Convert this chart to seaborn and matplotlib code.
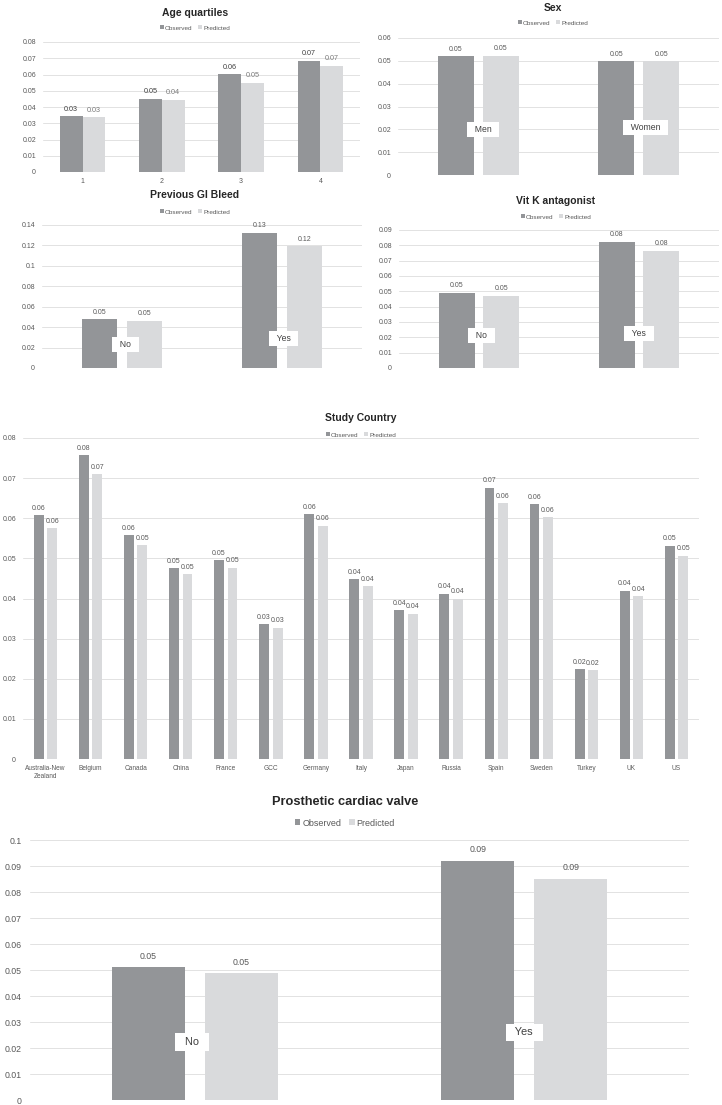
import matplotlib
matplotlib.use("Agg")
import matplotlib.pyplot as plt
from matplotlib.patches import Patch
import seaborn as sns
import pandas as pd

# ---------------- data ----------------
series = ["Observed", "Predicted"]

age_cats = ["1", "2", "3", "4"]
age_obs = [0.0342, 0.0452, 0.0602, 0.0684]
age_pred = [0.0336, 0.0446, 0.0548, 0.0654]

sex_cats = ["Men", "Women"]
sex_obs = [0.0520, 0.0498]
sex_pred = [0.0522, 0.0499]

gib_cats = ["No", "Yes"]
gib_obs = [0.0478, 0.1322]
gib_pred = [0.0461, 0.1190]

vka_cats = ["No", "Yes"]
vka_obs = [0.0490, 0.0822]
vka_pred = [0.0472, 0.0766]

country_cats = ["Australia-New\nZealand", "Belgium", "Canada", "China", "France", "GCC",
                "Germany", "Italy", "Japan", "Russia", "Spain", "Sweden", "Turkey", "UK", "US"]
country_obs = [0.0607, 0.0757, 0.0558, 0.0476, 0.0496, 0.0336, 0.0610, 0.0448,
               0.0371, 0.0412, 0.0676, 0.0635, 0.0224, 0.0419, 0.0532]
country_pred = [0.0575, 0.0710, 0.0533, 0.0461, 0.0477, 0.0327, 0.0581, 0.0431,
                0.0362, 0.0400, 0.0638, 0.0602, 0.0221, 0.0405, 0.0507]

pcv_cats = ["No", "Yes"]
pcv_obs = [0.0510, 0.0921]
pcv_pred = [0.0488, 0.0851]

# ---------------- style ----------------
sns.set_style("white")
plt.rcParams["font.family"] = ["Liberation Sans", "DejaVu Sans"]

OBS = "#939598"
PRED = "#d9dadc"
GRID = "#e2e2e2"
TXT = "#595959"
TITLE = "#262626"

W, H = 722, 1105
fig = plt.figure(figsize=(W / 100, H / 100), dpi=100)


def frame(cats, obs, pred):
    return pd.DataFrame({
        "cat": list(cats) * 2,
        "val": list(obs) + list(pred),
        "series": [series[0]] * len(cats) + [series[1]] * len(cats),
    })


def fmt_tick(v):
    s = f"{v:.2f}".rstrip("0").rstrip(".")
    return s


def panel(l, r, t, b, cats, obs, pred, ymax, ystep, width, gap,
          title, tx, ty, ly, tsize, fsize, lsize, dsize, dpad,
          show_x=False, xsize=5, ypad=5, cat_boxes=None, box_size=6.2,
          pred_lab_col=TXT, obs_lab_col=TXT):
    ax = fig.add_axes([l / W, 1 - b / H, (r - l) / W, (b - t) / H])
    df = frame(cats, obs, pred)
    sns.barplot(data=df, x="cat", y="val", hue="series", palette=[OBS, PRED],
                width=width, gap=gap, errorbar=None, legend=False, ax=ax,
                saturation=1, edgecolor="none", linewidth=0)
    ax.set_xlim(-0.5, len(cats) - 0.5)
    ax.set_ylim(0, ymax)
    n = int(round(ymax / ystep))
    ticks = [i * ystep for i in range(n + 1)]
    ax.set_yticks(ticks)
    ax.set_yticklabels([fmt_tick(v) for v in ticks])
    ax.yaxis.grid(True, color=GRID, linewidth=0.7)
    ax.set_axisbelow(True)
    for s in ax.spines.values():
        s.set_visible(False)
    ax.tick_params(axis="y", length=0, labelsize=fsize, colors=TXT, pad=ypad)
    if show_x:
        ax.tick_params(axis="x", length=0, labelsize=xsize, colors=TXT, pad=4)
    else:
        ax.set_xticklabels([])
        ax.tick_params(axis="x", length=0)
    ax.set_xlabel("")
    ax.set_ylabel("")
    cols = [obs_lab_col, pred_lab_col]
    for cont, c in zip(ax.containers, cols):
        ax.bar_label(cont, labels=[f"{v:.2f}" for v in cont.datavalues],
                     fontsize=dsize, color=c, padding=dpad)
    if cat_boxes:
        for i, (dx, yv) in enumerate(cat_boxes):
            ax.text(i + dx, yv, "  " + cats[i] + "  ", ha="center", va="center",
                    fontsize=box_size, color="#404040",
                    bbox=dict(boxstyle="square,pad=0.35", fc="white", ec="none"))
    fig.text(tx / W, 1 - ty / H, title, ha="center", va="center",
             fontsize=tsize, fontweight="bold", color=TITLE)
    handles = [Patch(facecolor=OBS, edgecolor="none"), Patch(facecolor=PRED, edgecolor="none")]
    fig.legend(handles, series, loc="center", bbox_to_anchor=(tx / W, 1 - ly / H),
               ncol=2, frameon=False, fontsize=lsize, handlelength=0.6,
               handleheight=0.6, handletextpad=0.2, columnspacing=0.9,
               labelcolor=TXT, borderaxespad=0, borderpad=0)
    return ax


panel(43, 360, 42, 172, age_cats, age_obs, age_pred, 0.08, 0.01, 0.575, 0.0,
      "Age quartiles", 195, 13, 28, 7.5, 5, 4.6, 5.2, 2.5, show_x=True, xsize=5,
      obs_lab_col="#404040", pred_lab_col="#7a7a7a")

panel(398, 719, 38, 175, sex_cats, sex_obs, sex_pred, 0.06, 0.01, 0.56, 0.2,
      "Sex", 553, 8, 23, 7.5, 5, 4.6, 5.0, 2.5,
      cat_boxes=[(0.03, 0.0199), (0.04, 0.0206)], box_size=6.2)

panel(42, 362, 225, 368, gib_cats, gib_obs, gib_pred, 0.14, 0.02, 0.56, 0.22,
      "Previous GI Bleed", 195, 195, 212, 7.5, 5, 4.6, 5.0, 2.5,
      cat_boxes=[(0.02, 0.023), (0.01, 0.0289)], box_size=6.2)

panel(399, 719, 230, 368, vka_cats, vka_obs, vka_pred, 0.09, 0.01, 0.56, 0.2,
      "Vit K antagonist", 556, 201, 217, 7.5, 5, 4.6, 5.0, 2.5,
      cat_boxes=[(0.016, 0.0212), (0.0, 0.0222)], box_size=6.2)

panel(23, 699, 438, 759, country_cats, country_obs, country_pred, 0.08, 0.01, 0.6, 0.27,
      "Study Country", 361, 418, 435, 7.5, 5, 4.6, 5.0, 2.5, show_x=True, xsize=4.7)

panel(30, 689, 840, 1100, pcv_cats, pcv_obs, pcv_pred, 0.1, 0.01, 0.565, 0.22,
      "Prosthetic cardiac valve", 345, 802, 823, 9.2, 6.3, 6.5, 6.3, 4.5, ypad=6,
      cat_boxes=[(-0.008, 0.0223), (0.0, 0.026)], box_size=7.9)

fig.savefig("out.png", dpi=100, facecolor="white")
